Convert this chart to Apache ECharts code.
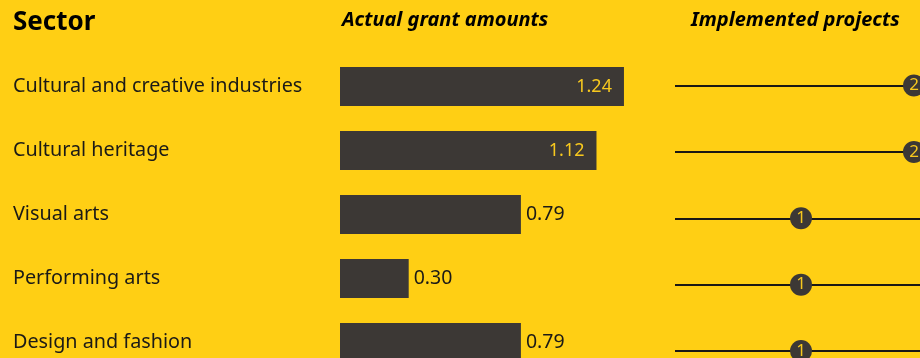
<!DOCTYPE html>
<html>
<head>
<meta charset="utf-8">
<script src="https://cdn.jsdelivr.net/npm/echarts@6/dist/echarts.min.js"></script>
<style>
  html, body { margin: 0; padding: 0; background: #FFCF14; }
  #chart { width: 920px; height: 358px; }
</style>
</head>
<body>
<div id="chart"></div>
<script>
// Sectors, grant amounts (millions) and number of implemented projects
const sectors = [
  'Cultural and creative industries',
  'Cultural heritage',
  'Visual arts',
  'Performing arts',
  'Design and fashion'
];
const grantAmounts = [1.24, 1.12, 0.79, 0.30, 0.79];
const projectCounts = [2, 2, 1, 1, 1];

const BG = '#FFCF14';
const DARK = '#3C3835';
const INK = '#1B1A17';
const FONT = 'Noto Sans';

// Large bars hold their value inside, short bars show it to the right
const barData = grantAmounts.map(v => ({
  value: v,
  label: v >= 1
    ? { position: 'insideRight', color: '#F7C81E', distance: 12, fontSize: 18 }
    : { position: 'right', color: INK, distance: 5, fontSize: 19.5 }
}));

const chart = echarts.init(document.getElementById('chart'), null, { renderer: 'canvas' });
chart.setOption({
  backgroundColor: BG,
  animation: false,
  title: [
    { text: 'Sector', left: 8, top: 5,
      textStyle: { fontFamily: FONT, fontSize: 26, fontWeight: 'bold', color: '#000' } },
    { text: 'Actual grant amounts', left: 337, top: 5,
      textStyle: { fontFamily: FONT, fontSize: 20, fontWeight: 'bold', fontStyle: 'italic', color: '#000' } },
    { text: 'Implemented projects', left: 686, top: 5,
      textStyle: { fontFamily: FONT, fontSize: 20, fontWeight: 'bold', fontStyle: 'italic', color: '#000' } }
  ],
  grid: [
    { left: 340, top: 54.5, width: 343.5, height: 320, containLabel: false, outerBoundsMode: 'none' },
    { left: 675, top: 85.5, width: 245, height: 265.5, containLabel: false, outerBoundsMode: 'none' }
  ],
  xAxis: [
    { type: 'value', gridIndex: 0, min: 0, max: 1.5, show: false },
    { type: 'value', gridIndex: 1, min: -0.115, max: 2.053, show: false }
  ],
  yAxis: [
    {
      type: 'category', gridIndex: 0, data: sectors, inverse: true,
      axisLine: { show: false }, axisTick: { show: false },
      axisLabel: {
        align: 'left', margin: 327, color: INK,
        fontFamily: FONT, fontSize: 19.8
      }
    },
    {
      type: 'category', gridIndex: 1, data: sectors, inverse: true,
      boundaryGap: false,
      axisLine: { show: false }, axisTick: { show: false }, axisLabel: { show: false },
      splitLine: { show: true, lineStyle: { color: '#1A1814', width: 2 } }
    }
  ],
  series: [
    {
      type: 'bar', xAxisIndex: 0, yAxisIndex: 0,
      data: barData, barWidth: 39,
      itemStyle: { color: DARK },
      label: {
        show: true, fontFamily: FONT,
        formatter: p => p.value.toFixed(2)
      }
    },
    {
      type: 'scatter', xAxisIndex: 1, yAxisIndex: 1,
      data: projectCounts.map((c, i) => [c, sectors[i]]),
      symbol: 'circle', symbolSize: 22,
      itemStyle: { color: DARK, opacity: 1 },
      emphasis: { disabled: true },
      label: {
        show: true, position: 'inside', color: '#F7C81E',
        fontFamily: FONT, fontSize: 17,
        formatter: p => String(p.value[0])
      }
    }
  ]
});
</script>
</body>
</html>
